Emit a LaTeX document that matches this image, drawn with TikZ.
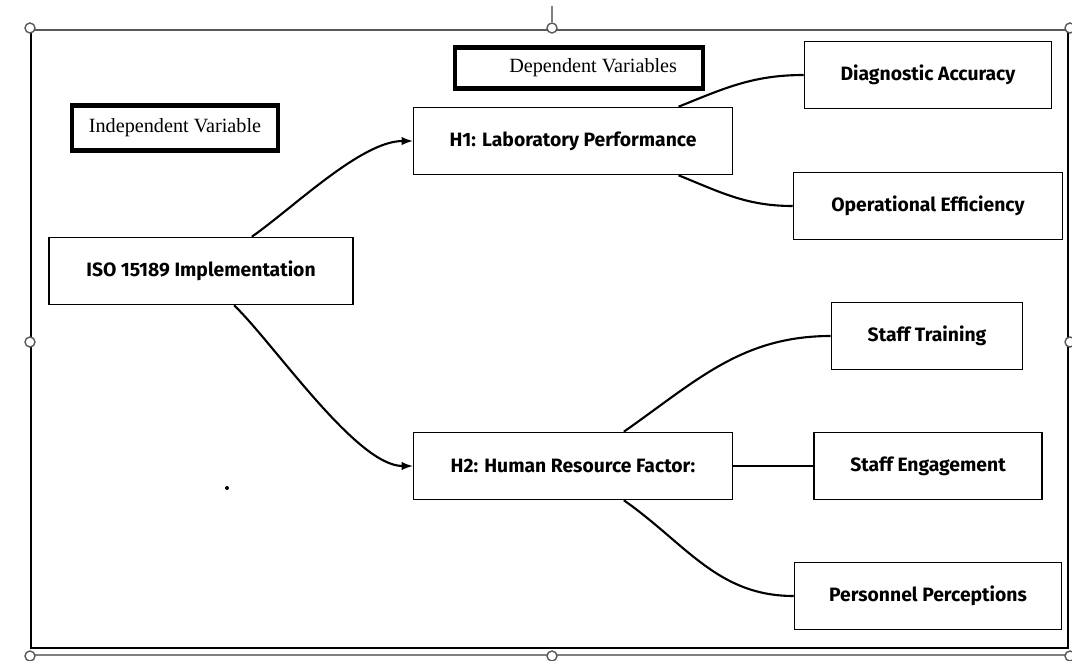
\documentclass[tikz,border=0pt]{standalone}
\usepackage{fontspec}
\setmainfont{Liberation Serif}
\setsansfont{Fira Sans}
\usetikzlibrary{arrows}

\begin{document}
\begin{tikzpicture}[
    x=0.02cm, y=-0.02cm,
    varbox/.style={
        draw,
        line width=0.9pt,
        minimum height=1.34cm,
        font=\sffamily\bfseries\fontsize{11}{13}\selectfont
    },
    headbox/.style={
        draw,
        line width=2.6pt,
        font=\rmfamily\fontsize{11.5}{13}\selectfont
    },
    link/.style={line width=1.2pt},
    handle/.style={draw=gray!70!black, fill=white, line width=0.8pt},
    >=latex
    ]
\useasboundingbox (0,0) rectangle (1072,660);

% frame and selection handles
\draw[gray!70!black, line width=1.6pt] (30,30) -- (1072,30);
\draw[gray, line width=1.4pt] (30,655) -- (1072,655);
\draw[line width=1.6pt] (31,30) -- (31,648) -- (1068,648) -- (1068,30);
\draw[gray, line width=0.8pt] (552,6) -- (552,22);
\foreach \hx/\hy in {30/28, 552/28, 1070/28, 30/342, 1070/342, 30/656, 552/656, 1070/656}
    \draw[handle] (\hx,\hy) circle (5);
\fill (227,488) circle (2);

% headings
\node[headbox, minimum width=4.12cm, minimum height=0.9cm] (indep) at (175,128) {Independent Variable};
\node[headbox, minimum width=4.96cm, minimum height=0.82cm] (dep) at (579,68) {\hspace{1.4em}Dependent Variables};

% boxes
\node[varbox, minimum width=6.08cm] (iso) at (201,271) {ISO 15189 Implementation};
\node[varbox, minimum width=6.38cm] (h1) at (573,141) {H1: Laboratory Performance};
\node[varbox, minimum width=6.38cm] (h2) at (573,466) {H2: Human Resource Factor:};
\node[varbox, minimum width=4.94cm] (diag) at (928,75) {Diagnostic Accuracy};
\node[varbox, minimum width=5.38cm] (oper) at (928,206) {Operational Efficiency};
\node[varbox, minimum width=3.82cm] (train) at (927,336) {Staff Training};
\node[varbox, minimum width=4.56cm] (engage) at (928,466) {Staff Engagement};
\node[varbox, minimum width=5.34cm] (percep) at (928,596) {Personnel Perceptions};

% connectors
\draw[link, ->] (iso.34) to[out=35, in=180, looseness=0.7] (h1.west);
\draw[link, ->] (iso.-46) to[out=-44, in=180, looseness=0.6] (h2.west);
\draw[link] (h1.18) to[out=22, in=180] (diag.west);
\draw[link] (h1.-18) to[out=-22, in=180] (oper.west);
\draw[link] (h2.34) to[out=35, in=180] (train.west);
\draw[link] (h2.east) -- (engage.west);
\draw[link] (h2.-34) to[out=-35, in=180] (percep.west);
\end{tikzpicture}
\end{document}
